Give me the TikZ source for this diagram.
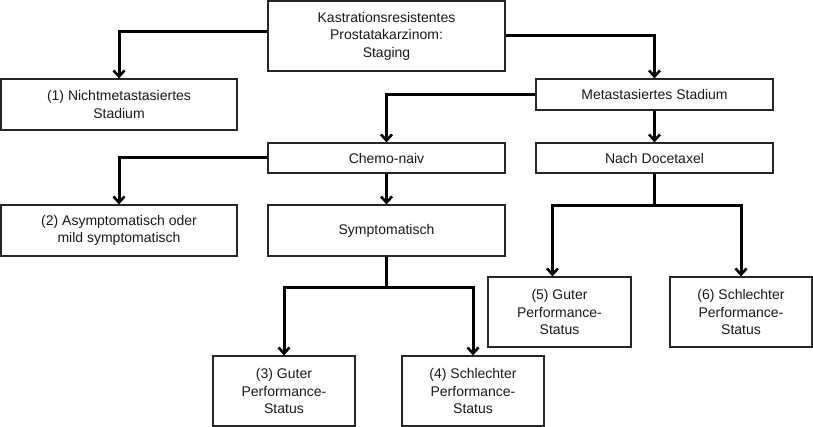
\documentclass[tikz,border=0pt]{standalone}
\usepackage{fontspec}
\setmainfont{Liberation Sans}
\usetikzlibrary{arrows.meta,calc}
\begin{document}
\begin{tikzpicture}[x=1pt,y=-1pt,
  box/.style={draw=black!85, line width=1.2pt, fill=white, align=center, inner sep=0pt,
    font=\fontsize{14}{17.5}\selectfont, text=black!90},
  arr/.style={line width=3pt, -{Straight Barb[length=6pt,width=11pt,line width=2.6pt]}},
  ln/.style={line width=3pt}]
\useasboundingbox (0,0) rectangle (813,427);
\node[box, minimum width=237pt, minimum height=70pt] (top) at (386.5,36) {Kastrationsresistentes\\Prostatakarzinom:\\Staging};
\node[box, minimum width=236pt, minimum height=51pt] (b1) at (119,104.5) {(1) Nichtmetastasiertes\\Stadium};
\node[box, minimum width=237pt, minimum height=31pt] (meta) at (654.5,94.5) {Metastasiertes Stadium};
\node[box, minimum width=237pt, minimum height=30pt] (chemo) at (386.5,158) {Chemo-naiv};
\node[box, minimum width=237pt, minimum height=30pt] (nach) at (654.5,158) {Nach Docetaxel};
\node[box, minimum width=236pt, minimum height=51pt] (b2) at (119,230.5) {(2) Asymptomatisch oder\\mild symptomatisch};
\node[box, minimum width=237pt, minimum height=51pt] (sym) at (386.5,230.5) {Symptomatisch};
\node[box, minimum width=142pt, minimum height=70pt] (b3) at (284,391) {(3) Guter\\Performance-\\Status};
\node[box, minimum width=142pt, minimum height=70pt] (b4) at (473,391) {(4) Schlechter\\Performance-\\Status};
\node[box, minimum width=143pt, minimum height=70pt] (b5) at (559.5,312) {(5) Guter\\Performance-\\Status};
\node[box, minimum width=142pt, minimum height=70pt] (b6) at (741,312) {(6) Schlechter\\Performance-\\Status};
\coordinate (s1) at ($(sym.south)+(0,31)$);
\coordinate (s2) at ($(nach.south)+(0,32)$);
\coordinate (b5t) at ($(b5.north)+(-7,0)$);
\draw[arr] ($(top.west)+(0,-4)$) -| (b1.north);
\draw[arr] (top.east) -| (meta.north);
\draw[arr] (meta.west) -| (chemo.north);
\draw[arr] (meta.south) -- (nach.north);
\draw[arr] (chemo.west) -| (b2.north);
\draw[arr] (chemo.south) -- (sym.north);
\draw[ln] (sym.south) -- (s1);
\draw[arr] (s1) -| (b3.north);
\draw[arr] (s1) -| (b4.north);
\draw[ln] (nach.south) -- (s2);
\draw[arr] (s2) -| (b5t);
\draw[arr] (s2) -| (b6.north);
\end{tikzpicture}
\end{document}
